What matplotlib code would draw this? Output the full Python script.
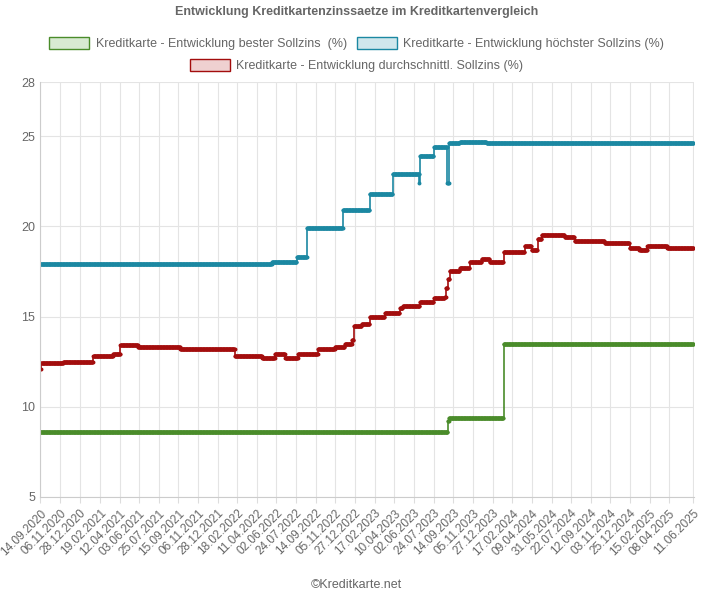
import numpy as np
import pandas as pd
import matplotlib
matplotlib.use("Agg")
import matplotlib.pyplot as plt
from matplotlib.patches import Patch

plt.rcParams["font.family"] = "Liberation Sans"

START = pd.Timestamp("2020-09-14")

# days since 14.09.2020 and values (step series)
high_days = [0, 614, 680, 707, 802, 873, 934, 1005, 1006, 1043, 1079, 1080, 1083, 1112, 1183, 1731]
high_vals = [17.9, 18.0, 18.3, 19.9, 20.9, 21.8, 22.9, 22.4, 23.9, 24.4, 22.4, 22.4, 24.6, 24.7, 24.6, 24.6]

best_days = [0, 1080, 1083, 1228, 1731]
best_vals = [8.6, 9.2, 9.4, 13.5, 13.5]

avg_days = [0, 2, 61, 140, 193, 212, 259, 371, 516, 588, 622, 649, 683, 736, 781, 807,
            826, 831, 836, 852, 873, 913, 953, 961, 1006, 1043, 1072, 1075, 1080, 1085,
            1112, 1138, 1170, 1191, 1228, 1284, 1302, 1318, 1329, 1390, 1416, 1496, 1562,
            1588, 1609, 1662, 1731]
avg_vals = [12.1, 12.4, 12.5, 12.8, 12.9, 13.4, 13.3, 13.2, 12.8, 12.7, 12.9, 12.7, 12.9, 13.2, 13.3, 13.5,
            13.7, 14.5, 14.5, 14.6, 15.0, 15.2, 15.5, 15.6, 15.8, 16.0, 16.1, 16.6, 17.1, 17.5,
            17.7, 18.0, 18.2, 18.0, 18.6, 18.9, 18.7, 19.3, 19.5, 19.4, 19.2, 19.1, 18.8,
            18.7, 18.9, 18.8, 18.8]

tick_labels = ["14.09.2020", "06.11.2020", "28.12.2020", "19.02.2021", "12.04.2021", "03.06.2021",
               "25.07.2021", "15.09.2021", "06.11.2021", "28.12.2021", "18.02.2022", "11.04.2022",
               "02.06.2022", "24.07.2022", "14.09.2022", "05.11.2022", "27.12.2022", "17.02.2023",
               "10.04.2023", "02.06.2023", "24.07.2023", "14.09.2023", "05.11.2023", "27.12.2023",
               "17.02.2024", "09.04.2024", "31.05.2024", "22.07.2024", "12.09.2024", "03.11.2024",
               "25.12.2024", "15.02.2025", "08.04.2025", "11.06.2025"]

GREEN = "#4a8c2a"
TEAL = "#1b88a2"
RED = "#a30d0d"


def to_dates(days):
    return START + pd.to_timedelta(days, unit="D")


def step_points(days, vals):
    # expand to daily points so markers look like a dense line
    d = np.arange(0, days[-1] + 1, 1)
    idx = np.searchsorted(days, d, side="right") - 1
    return to_dates(d), np.array(vals)[idx]


fig = plt.figure(figsize=(7.13, 6.12), dpi=100)
ax = fig.add_axes([0.056, 0.188, 0.917, 0.678])

for days, vals, col in [(best_days, best_vals, GREEN), (high_days, high_vals, TEAL), (avg_days, avg_vals, RED)]:
    ax.step(to_dates(days), vals, where="post", color=col, lw=1.2)
    x, y = step_points(days, vals)
    ax.plot(x, y, ls="none", marker="o", ms=1.8, color=col)

ticks = pd.to_datetime(tick_labels, format="%d.%m.%Y")
ax.set_xticks(ticks)
ax.set_xticklabels(tick_labels, rotation=45, ha="right", rotation_mode="anchor", fontsize=8.5, color="#666666")
ax.set_xlim(ticks[0] - pd.Timedelta(days=1), ticks[-1] + pd.Timedelta(days=1))
ax.set_ylim(5, 28)
ax.set_yticks([5, 10, 15, 20, 25, 28])
ax.tick_params(axis="y", labelsize=9, colors="#666666", length=0)
ax.tick_params(axis="x", length=4, color="#dddddd")
ax.grid(True, color="#e4e4e4", lw=0.8)
for s in ["top", "right"]:
    ax.spines[s].set_visible(False)
ax.spines["left"].set_color("#cccccc")
ax.spines["bottom"].set_color("#cccccc")

fig.text(0.5, 0.975, "Entwicklung Kreditkartenzinssaetze im Kreditkartenvergleich",
         ha="center", fontsize=9, fontweight="bold", color="#666666")

h1 = Patch(facecolor="#d8ead2", edgecolor=GREEN, label="Kreditkarte - Entwicklung bester Sollzins  (%)")
h2 = Patch(facecolor="#d0e7ec", edgecolor=TEAL, label="Kreditkarte - Entwicklung höchster Sollzins (%)")
h3 = Patch(facecolor="#efd0d0", edgecolor=RED, label="Kreditkarte - Entwicklung durchschnittl. Sollzins (%)")
fig.legend(handles=[h1, h2], loc="center", bbox_to_anchor=(0.5, 0.929), ncol=2, frameon=False,
           fontsize=9, handlelength=3.2, handleheight=1.1, handletextpad=0.5, columnspacing=0.8,
           labelcolor="#666666")
fig.legend(handles=[h3], loc="center", bbox_to_anchor=(0.5, 0.893), frameon=False,
           fontsize=9, handlelength=3.2, handleheight=1.1, handletextpad=0.5, labelcolor="#666666")

fig.text(0.5, 0.04, "©Kreditkarte.net", ha="center", fontsize=9, color="#666666")

fig.savefig("out.png", dpi=100)
